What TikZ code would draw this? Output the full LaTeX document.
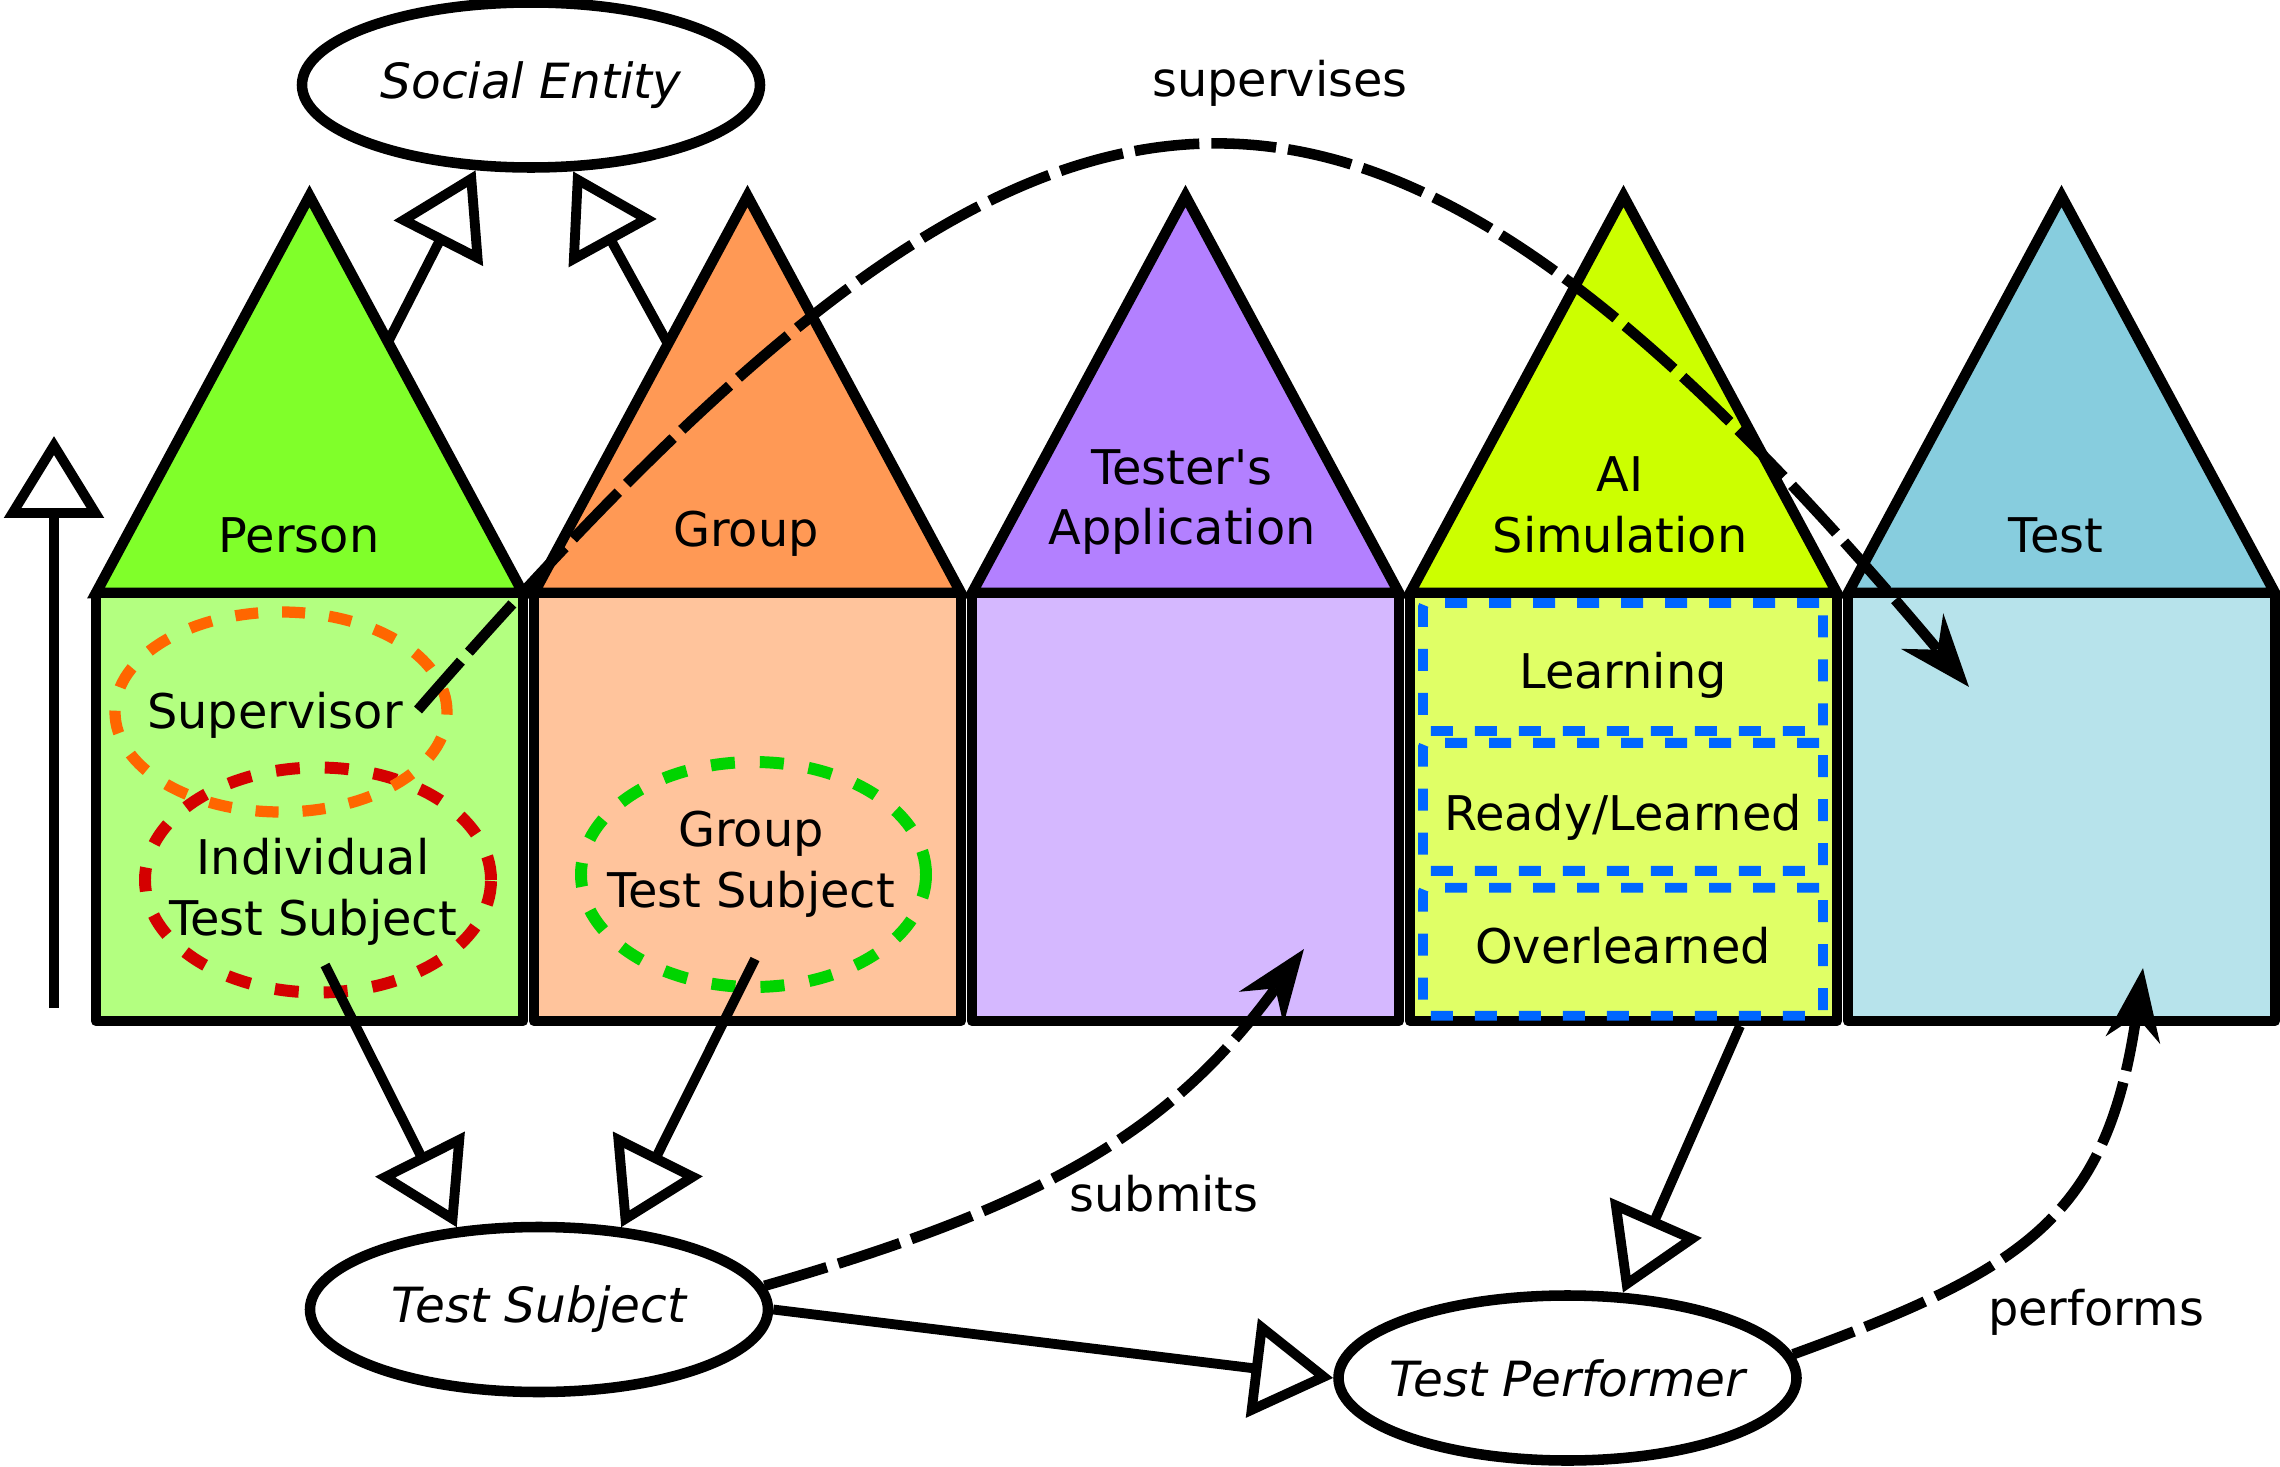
\documentclass[tikz,border=0pt]{standalone}
\usepackage{fontspec}
\setmainfont{DejaVu Sans}
\usetikzlibrary{arrows.meta,positioning,shapes.geometric}
\definecolor{personroof}{HTML}{80FF2A}
\definecolor{personbody}{HTML}{B3FF80}
\definecolor{grouproof}{HTML}{FF9955}
\definecolor{groupbody}{HTML}{FFC49C}
\definecolor{approof}{HTML}{B380FF}
\definecolor{appbody}{HTML}{D5B8FF}
\definecolor{airoof}{HTML}{CCFF00}
\definecolor{aibody}{HTML}{E0FF66}
\definecolor{testroof}{HTML}{87CDDE}
\definecolor{testbody}{HTML}{B7E3EB}
\definecolor{supring}{HTML}{FF6600}
\definecolor{indring}{HTML}{D40000}
\definecolor{grpring}{HTML}{00D400}
\definecolor{stateline}{HTML}{0066FF}
\def\labelfont{\fontsize{13.6}{17.3}\selectfont}

\begin{document}
\begin{tikzpicture}[font=\labelfont,
  roof/.style={draw,line width=3pt},
  class box/.style={draw,line width=3pt,line join=round},
  roof label/.style={align=center,inner sep=0pt},
  concept/.style={ellipse,draw,fill=white,line width=3pt,minimum width=4.58cm,minimum height=1.65cm,inner sep=0pt},
  concept text/.style={inner sep=0pt,font=\fontsize{13.8}{17}\selectfont\itshape},
  role ring/.style={ellipse,draw,line width=3.4pt,dash pattern=on 0.24cm off 0.25cm,inner sep=0pt},
  role text/.style={align=center,inner sep=0pt},
  state box/.style={draw=stateline,line width=2.8pt,dash pattern=on 0.22cm off 0.22cm,rounded corners=0.04cm,minimum width=4.00cm,minimum height=1.28cm,inner sep=0pt,text depth=0.10cm},
  gen/.style={-{Triangle[fill=white,length=0.82cm,width=0.98cm]},line width=2.8pt},
  rel/.style={-{Stealth[length=0.72cm,width=0.54cm]},line width=3pt,dash pattern=on 0.65cm off 0.12cm},
  rel label/.style={anchor=base,inner sep=0pt}]
  \useasboundingbox (0,0) rectangle (22.80,-14.67);

  \draw[roof,fill=personroof] (0.96,-5.93) -- (3.095,-1.96) -- (5.23,-5.93) -- cycle;
  \draw[roof,fill=grouproof] (5.34,-5.93) -- (7.475,-1.96) -- (9.61,-5.93) -- cycle;
  \draw[roof,fill=approof] (9.72,-5.93) -- (11.855,-1.96) -- (13.99,-5.93) -- cycle;
  \draw[roof,fill=airoof] (14.10,-5.93) -- (16.235,-1.96) -- (18.37,-5.93) -- cycle;
  \draw[roof,fill=testroof] (18.48,-5.93) -- (20.615,-1.96) -- (22.75,-5.93) -- cycle;

  \draw[class box,fill=personbody] (0.96,-5.93) rectangle (5.23,-10.21);
  \draw[class box,fill=groupbody] (5.34,-5.93) rectangle (9.61,-10.21);
  \draw[class box,fill=appbody] (9.72,-5.93) rectangle (13.99,-10.21);
  \draw[class box,fill=aibody] (14.10,-5.93) rectangle (18.37,-10.21);
  \draw[class box,fill=testbody] (18.48,-5.93) rectangle (22.75,-10.21);

  \node[roof label,anchor=base] (person) at (2.99,-5.53) {Person};
  \node[roof label,anchor=base] (group) at (7.46,-5.46) {Group};
  \node[roof label] (app) at (11.82,-5.02) {Tester\textquotesingle s\\Application};
  \node[roof label] (ai) at (16.20,-5.05) {AI\\Simulation};
  \node[roof label,anchor=base] (test) at (20.56,-5.53) {Test};

  \node[role ring,draw=indring,minimum width=3.46cm,minimum height=2.25cm] (ind ring) at (3.18,-8.80) {};
  \node[role ring,draw=supring,line width=3.2pt,dash pattern=on 0.23cm off 0.24cm,minimum width=3.32cm,minimum height=2.00cm] (sup ring) at (2.81,-7.12) {};
  \node[role ring,draw=grpring,minimum width=3.45cm,minimum height=2.25cm] (grp ring) at (7.535,-8.745) {};
  \node[role text,anchor=base] (sup) at (2.75,-7.28) {Supervisor};
  \node[role text] (ind) at (3.13,-8.92) {Individual\\Test Subject};
  \node[role text] (grp) at (7.51,-8.64) {Group\\Test Subject};

  \node[state box,text height=0.52cm] (learn) at (16.23,-6.67) {Learning};
  \node[state box,text height=0.58cm] (ready) [below=0.02cm of learn] {Ready/Learned};
  \node[state box,text height=0.34cm] (over) [below=0.07cm of ready] {Overlearned};

  \node[concept] (se) at (5.31,-0.85) {};
  \node[concept text] (se text) at (se) {Social Entity};
  \node[concept] (ts) at (5.39,-13.095) {};
  \node[concept text] (ts text) at (ts) {Test Subject};
  \node[concept] (tp) at (15.675,-13.78) {};
  \node[concept text] (tp text) at (tp) {Test Performer};

  \coordinate (person up) at (3.88,-3.42);
  \coordinate (group up) at (6.68,-3.44);
  \coordinate (ind down) at (3.25,-9.65);
  \coordinate (grp down) at (7.55,-9.59);
  \coordinate (ai down) at (17.40,-10.26);
  \coordinate (axis from) at (0.54,-10.08);
  \coordinate (axis to) at (0.54,-4.36);
  \coordinate (sv start) at (4.18,-7.10);
  \coordinate (sv end) at (19.69,-6.87);
  \coordinate (sb end) at (13.04,-9.49);
  \coordinate (pf end) at (21.43,-9.68);

  \path (person up) edge[gen] (se.237.5)
        (group up) edge[gen] (se.296.6)
        (ind down) edge[gen] (ts.135)
        (grp down) edge[gen] (ts.45)
        (ts.east) edge[gen] (tp.west)
        (ai down) edge[gen] (tp.57)
        (axis from) edge[gen] (axis to);

  \path (sv start) edge[rel,out=49,in=130,distance=9.65cm] (sv end)
        (ts.6) edge[rel,out=16,in=234,out distance=3cm,in distance=2.2cm] (sb end)
        (tp.6) edge[rel,out=20,in=262,distance=2.5cm] (pf end);

  \node[rel label] (supervises) at (12.80,-0.97) {supervises};
  \node[rel label] (submits) at (11.64,-12.11) {submits};
  \node[rel label] (performs) at (20.96,-13.25) {performs};
\end{tikzpicture}
\end{document}
